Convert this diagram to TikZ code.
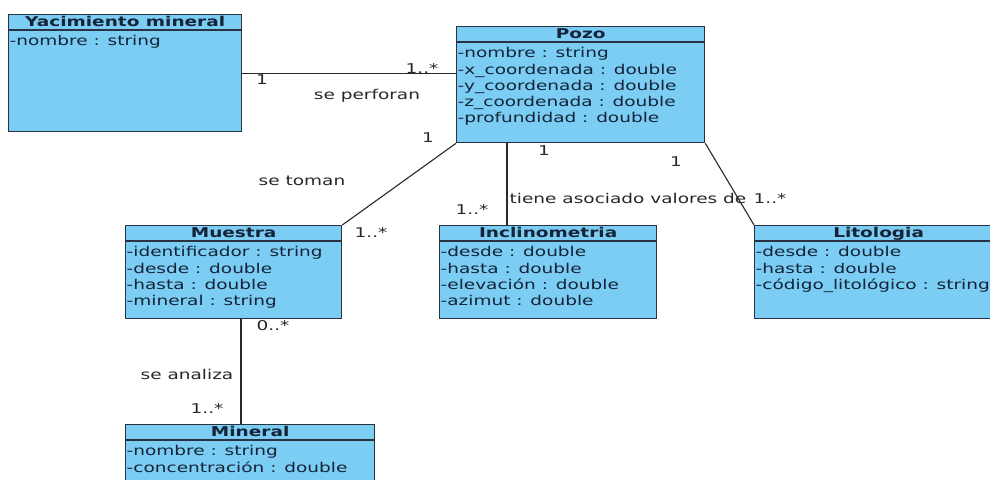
\documentclass[tikz,border=0pt]{standalone}
\usepackage{fontspec}
\setmainfont{DejaVu Sans}[FakeStretch=1.37]
\definecolor{umlfondo}{RGB}{124,205,244}
\definecolor{umlborde}{RGB}{40,50,65}
\definecolor{umltexto}{RGB}{20,35,55}
\definecolor{etiq}{RGB}{40,40,40}
\begin{document}
\begin{tikzpicture}[x=1pt,y=-1pt]
\def\cab{16pt}
\tikzset{base/.style={font=\fontsize{13.5}{16.1}\selectfont},
clase/.style={draw=umlborde,fill=umlfondo,line width=1.3pt,anchor=north west,inner sep=0pt},
titulo/.style={font=\fontsize{13.5}{16.1}\selectfont\bfseries,text=umltexto,anchor=base},
atrib/.style={base,text=umltexto,anchor=north west,align=left,inner sep=0pt},
rol/.style={base,text=etiq,inner sep=0pt},
asoc/.style={draw=etiq,line width=1.1pt}}
\clip (0,0) rectangle (990,479);
\fill[white] (0,0) rectangle (990,479);
% clases
\node[clase,minimum width=233pt,minimum height=117pt] (yac) at (8,14) {};
\node[clase,minimum width=248pt,minimum height=116pt] (pozo) at (456,26) {};
\node[clase,minimum width=216pt,minimum height=93pt] (muestra) at (125,225) {};
\node[clase,minimum width=217pt,minimum height=93pt] (incl) at (439,225) {};
\node[clase,minimum width=248pt,minimum height=93pt] (lito) at (754,225) {};
\node[clase,minimum width=249pt,minimum height=70pt] (mineral) at (125,424) {};
\foreach \c in {yac,pozo,muestra,incl,lito,mineral}
  \draw[umlborde,line width=1.3pt] ([yshift=-\cab]\c.north west) -- ([yshift=-\cab]\c.north east);
\node[titulo] (yacT) at ([yshift=-12pt]yac.north) {Yacimiento mineral};
\node[titulo] (pozoT) at ([yshift=-12pt]pozo.north) {Pozo};
\node[titulo] (muestraT) at ([yshift=-12pt]muestra.north) {Muestra};
\node[titulo] (inclT) at ([yshift=-12pt]incl.north) {Inclinometria};
\node[titulo] (litoT) at ([yshift=-12pt]lito.north) {Litologia};
\node[titulo] (mineralT) at ([yshift=-12pt]mineral.north) {Mineral};
% atributos
\node[atrib] (yacA) at ([xshift=1.5pt,yshift=-21.5pt]yac.north west) {-nombre : string};
\node[atrib] (pozoA) at ([xshift=1.5pt,yshift=-21.5pt]pozo.north west) {-nombre : string\\-x\_coordenada : double\\-y\_coordenada : double\\-z\_coordenada : double\\-profundidad : double};
\node[atrib] (muestraA) at ([xshift=1.5pt,yshift=-21.5pt]muestra.north west) {-identificador : string\\-desde : double\\-hasta : double\\-mineral : string};
\node[atrib] (inclA) at ([xshift=1.5pt,yshift=-21.5pt]incl.north west) {-desde : double\\-hasta : double\\-elevación : double\\-azimut : double};
\node[atrib] (litoA) at ([xshift=1.5pt,yshift=-21.5pt]lito.north west) {-desde : double\\-hasta : double\\-código\_litológico : string};
\node[atrib] (mineralA) at ([xshift=1.5pt,yshift=-21.5pt]mineral.north west) {-nombre : string\\-concentración : double};
% asociaciones
\draw[asoc] (yac.east) -- (yac.east -| pozo.west);
\draw[asoc] (pozo.south west) -- (muestra.north east);
\draw[asoc] ([xshift=68pt]incl.north west) coordinate (ia) -- (ia |- pozo.south);
\draw[asoc] (pozo.south east) -- (lito.north west);
\draw[asoc] ([xshift=116pt]muestra.south west) coordinate (ma) -- (ma |- mineral.north);
% multiplicidades y roles
\node[rol] (m1) at (262,80) {1};
\node[rol] (m2) at (422,68) {1..*};
\node[rol] (r1) at (367,96) {se perforan};
\node[rol] (m3) at (428,138) {1};
\node[rol] (r2) at (302,181) {se toman};
\node[rol] (m4) at (371,232) {1..*};
\node[rol] (m5) at (544,151) {1};
\node[rol] (m6) at (472,209) {1..*};
\node[rol] (r3) at (628,198) {tiene asociado valores de};
\node[rol] (m7) at (676,162) {1};
\node[rol] (m8) at (770,198) {1..*};
\node[rol] (m9) at (273,326) {0..*};
\node[rol] (r4) at (187,374) {se analiza};
\node[rol] (m10) at (207,408) {1..*};
\end{tikzpicture}
\end{document}
